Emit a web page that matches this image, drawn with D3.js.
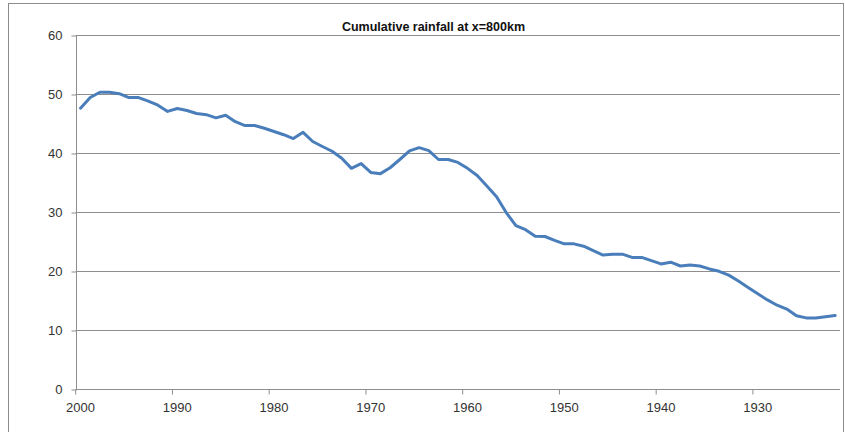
<!DOCTYPE html>
<html>
<head>
<meta charset="utf-8">
<script src="https://cdn.jsdelivr.net/npm/d3@7"></script>
<style>
  body { margin: 0; background: #fff; }
  svg { display: block; font-family: "Liberation Sans", Arial, sans-serif; }
</style>
</head>
<body>
<div id="chart"></div>
<script>
// categories: one per year, running backwards
const years = d3.range(2000, 1921, -1);
const labelYears = [2000, 1990, 1980, 1970, 1960, 1950, 1940, 1930];
const yTicks = [0, 10, 20, 30, 40, 50, 60];
const rainfall = [
  47.6, 49.4, 50.3, 50.3, 50.05, 49.4, 49.4, 48.8, 48.1, 47.05,
  47.55, 47.2, 46.7, 46.5, 45.95, 46.4, 45.3, 44.65, 44.65, 44.2,
  43.65, 43.1, 42.45, 43.5, 41.95, 41.1, 40.3, 39.1, 37.4, 38.2,
  36.7, 36.5, 37.5, 38.9, 40.35, 40.9, 40.4, 38.9, 38.9, 38.4,
  37.4, 36.2, 34.4, 32.6, 29.9, 27.7, 27.0, 25.9, 25.85, 25.2,
  24.6, 24.6, 24.2, 23.45, 22.7, 22.85, 22.85, 22.3, 22.3, 21.75,
  21.2, 21.5, 20.85, 21.0, 20.85, 20.35, 19.95, 19.3, 18.3, 17.2,
  16.15, 15.1, 14.2, 13.55, 12.4, 12.05, 12.05, 12.25, 12.45
];
const title = 'Cumulative rainfall at x=800km';

const width = 845, height = 432;
const plot = { left: 75.7, right: 840, top: 35, bottom: 389 };

const svg = d3.select('#chart')
  .append('svg')
  .attr('width', width)
  .attr('height', height);

// outer chart border
svg.append('rect')
  .attr('x', 8.5).attr('y', 3.5)
  .attr('width', 835).attr('height', 440)
  .attr('fill', 'none')
  .attr('stroke', '#8c8c8c');

const x = d3.scaleBand()
  .domain(years)
  .range([plot.left, plot.right])
  .padding(0);

const y = d3.scaleLinear()
  .domain([0, 60])
  .range([plot.bottom, plot.top]);

// gridlines
svg.append('g')
  .selectAll('line')
  .data(yTicks.filter(d => d > 0))
  .enter().append('line')
  .attr('x1', plot.left).attr('x2', plot.right)
  .attr('y1', d => Math.round(y(d)) + 0.5)
  .attr('y2', d => Math.round(y(d)) + 0.5)
  .attr('stroke', '#8e8e8e')
  .attr('stroke-width', 1);

// y axis
const yAxis = svg.append('g')
  .attr('transform', 'translate(' + (Math.round(plot.left) + 0.5) + ',0.5)')
  .call(d3.axisLeft(y).tickValues(yTicks).tickSize(5).tickPadding(9));
yAxis.select('.domain').attr('stroke', '#8e8e8e').attr('d', 'M0,' + Math.round(plot.top) + 'V' + Math.round(plot.bottom));
yAxis.selectAll('.tick line').attr('stroke', '#8e8e8e');
yAxis.selectAll('.tick text')
  .attr('font-size', 13)
  .attr('fill', '#333');

// x axis: ticks on category boundaries, labels centred on categories
const xAxis = svg.append('g')
  .attr('transform', 'translate(0,' + (Math.round(plot.bottom) + 0.5) + ')')
  .call(d3.axisBottom(x).tickValues(labelYears).tickSize(5).tickPadding(8));
xAxis.select('.domain').attr('stroke', '#8e8e8e').attr('d', 'M' + plot.left + ',0H' + plot.right);
xAxis.selectAll('.tick line')
  .attr('stroke', '#8e8e8e')
  .attr('x1', -x.bandwidth() / 2)
  .attr('x2', -x.bandwidth() / 2);
xAxis.selectAll('.tick text')
  .attr('font-size', 13)
  .attr('fill', '#333');

// rainfall line
const line = d3.line()
  .x((d, i) => x(years[i]) + x.bandwidth() / 2)
  .y(d => y(d));

svg.append('path')
  .datum(rainfall)
  .attr('d', line)
  .attr('fill', 'none')
  .attr('stroke', '#4a7ebb')
  .attr('stroke-width', 3)
  .attr('stroke-linejoin', 'round')
  .attr('stroke-linecap', 'round');

// title
svg.append('text')
  .attr('x', 433.5)
  .attr('y', 30.5)
  .attr('text-anchor', 'middle')
  .attr('font-size', 12.5)
  .attr('font-weight', 'bold')
  .attr('fill', '#111')
  .text(title);
</script>
</body>
</html>
